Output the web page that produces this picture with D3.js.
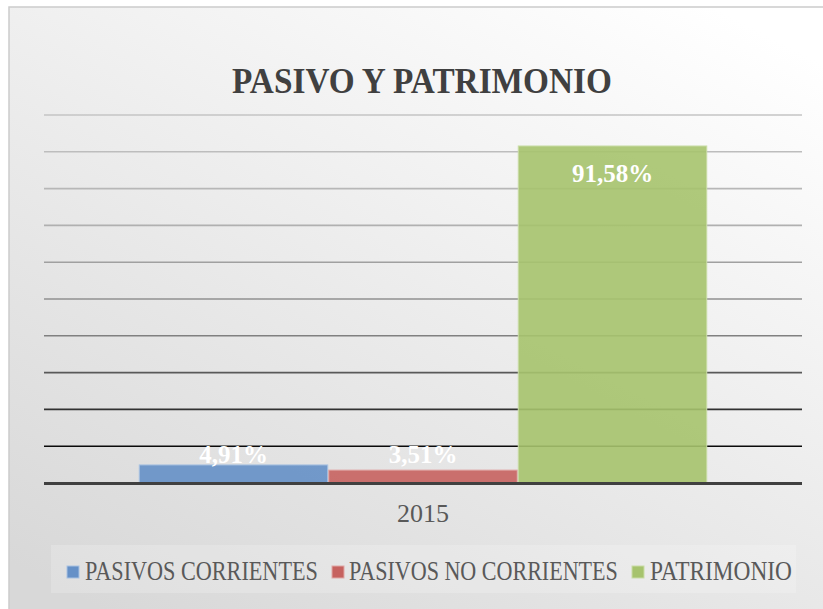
<!DOCTYPE html>
<html>
<head>
<meta charset="utf-8">
<script src="https://cdn.jsdelivr.net/npm/d3@7"></script>
<style>
  html, body { margin: 0; padding: 0; background: #ffffff; }
  svg { display: block; }
</style>
</head>
<body>
<svg id="chart" width="823" height="609"></svg>
<script>
// Chart data
const title = "PASIVO Y PATRIMONIO";
const categories = ["2015"];
const seriesNames = ["PASIVOS CORRIENTES", "PASIVOS NO CORRIENTES", "PATRIMONIO"];
const seriesValues = [4.91, 3.51, 91.58];
const seriesColors = ["#6590c7", "#c6625f", "#a6c36d"];
const seriesOutlines = ["#a9c2e2", "#e0a8a6", "#c9dca6"];
const yTicks = [0, 10, 20, 30, 40, 50, 60, 70, 80, 90, 100];

const fmt = v => v.toFixed(2).replace(".", ",") + "%";
const serif = "'Liberation Serif', 'Times New Roman', serif";

const svg = d3.select("#chart");
const defs = svg.append("defs");

// Squeeze a text horizontally to a target width (condensed look)
function condense(sel, x, y, width, anchor) {
  const natural = sel.node().getComputedTextLength();
  const k = width / natural;
  let left = x;
  if (anchor === "middle") left = x - width / 2;
  sel.attr("text-anchor", "start")
    .attr("transform", `translate(${left},${y}) scale(${k},1)`);
}

// Frame background: soft diagonal fade from white to light grey
const bg = defs.append("linearGradient")
  .attr("id", "bgGrad")
  .attr("x1", "85%").attr("y1", "0%")
  .attr("x2", "15%").attr("y2", "100%");
bg.append("stop").attr("offset", "0%").attr("stop-color", "#ffffff");
bg.append("stop").attr("offset", "100%").attr("stop-color", "#d8d8d8");

const frame = { x: 9, y: 7, w: 830, h: 620 };
svg.append("rect")
  .attr("x", frame.x).attr("y", frame.y)
  .attr("width", frame.w).attr("height", frame.h)
  .attr("fill", "url(#bgGrad)")
  .attr("stroke", "#cccccc")
  .attr("stroke-width", 1.5);

// Plot area
const plot = { left: 44, right: 802, top: 115, bottom: 483 };

const y = d3.scaleLinear().domain([0, 100]).range([plot.bottom, plot.top]);
const x0 = d3.scaleBand().domain(categories)
  .range([plot.left, plot.right])
  .paddingInner(0.25).paddingOuter(0.125);
const x1 = d3.scaleBand().domain(seriesNames)
  .range([0, x0.bandwidth()]).padding(0);

// Gridlines fade from light grey at the top to black near the axis
const gridColor = d3.scaleLinear()
  .domain([100, 70, 40, 10])
  .range(["#c4c4c4", "#b0b0b0", "#808080", "#0a0a0a"]);

svg.append("g")
  .selectAll("line")
  .data(yTicks.filter(t => t > 0))
  .join("line")
  .attr("x1", plot.left).attr("x2", plot.right)
  .attr("y1", d => y(d)).attr("y2", d => y(d))
  .attr("stroke", d => gridColor(d))
  .attr("stroke-width", 1.6);

// Bars
const gBars = svg.append("g");
categories.forEach(cat => {
  const g = gBars.append("g").attr("transform", `translate(${x0(cat)},0)`);
  const rows = seriesNames.map((n, i) => ({ name: n, value: seriesValues[i], i }));
  g.selectAll("rect")
    .data(rows)
    .join("rect")
    .attr("x", d => x1(d.name) + 0.5)
    .attr("width", x1.bandwidth() - 1)
    .attr("y", d => y(d.value))
    .attr("height", d => y(0) - y(d.value))
    .attr("fill", d => seriesColors[d.i])
    .attr("fill-opacity", 0.9)
    .attr("stroke", d => seriesOutlines[d.i])
    .attr("stroke-width", 1);

  // Value labels: inside the end of the bar, kept clear of the axis
  g.selectAll("text")
    .data(rows)
    .join("text")
    .attr("x", d => x1(d.name) + x1.bandwidth() / 2)
    .attr("y", d => Math.min(y(d.value) + 36, y(0) - 20))
    .attr("text-anchor", "middle")
    .attr("font-family", serif)
    .attr("font-weight", "bold")
    .attr("font-size", 25)
    .attr("fill", "#ffffff")
    .text(d => fmt(d.value));
});

// Category axis line
svg.append("line")
  .attr("x1", plot.left).attr("x2", plot.right)
  .attr("y1", y(0) + 0.5).attr("y2", y(0) + 0.5)
  .attr("stroke", "#404040")
  .attr("stroke-width", 3);

// Category labels
svg.append("g")
  .selectAll("text")
  .data(categories)
  .join("text")
  .attr("x", d => x0(d) + x0.bandwidth() / 2)
  .attr("y", 522)
  .attr("text-anchor", "middle")
  .attr("font-family", serif)
  .attr("font-size", 26)
  .attr("fill", "#595959")
  .text(d => d);

// Title
const titleText = svg.append("text")
  .attr("font-family", serif)
  .attr("font-weight", "bold")
  .attr("font-size", 35)
  .attr("fill", "#404040")
  .text(title);
condense(titleText, 422, 93, 380, "middle");

// Legend
svg.append("rect")
  .attr("x", 51).attr("y", 545)
  .attr("width", 745).attr("height", 48)
  .attr("fill", "#ffffff")
  .attr("fill-opacity", 0.2);

const legendItems = [
  { sx: 67, tx: 85, tw: 233 },
  { sx: 332, tx: 349, tw: 269 },
  { sx: 632, tx: 650, tw: 142 }
];
const legend = svg.append("g");
seriesNames.forEach((name, i) => {
  const it = legendItems[i];
  legend.append("rect")
    .attr("x", it.sx).attr("y", 566)
    .attr("width", 12).attr("height", 12)
    .attr("fill", seriesColors[i])
    .attr("stroke", seriesOutlines[i])
    .attr("stroke-width", 1);
  const t = legend.append("text")
    .attr("font-family", serif)
    .attr("font-size", 27)
    .attr("fill", "#595959")
    .text(name);
  condense(t, it.tx, 580, it.tw, "start");
});
</script>
</body>
</html>
